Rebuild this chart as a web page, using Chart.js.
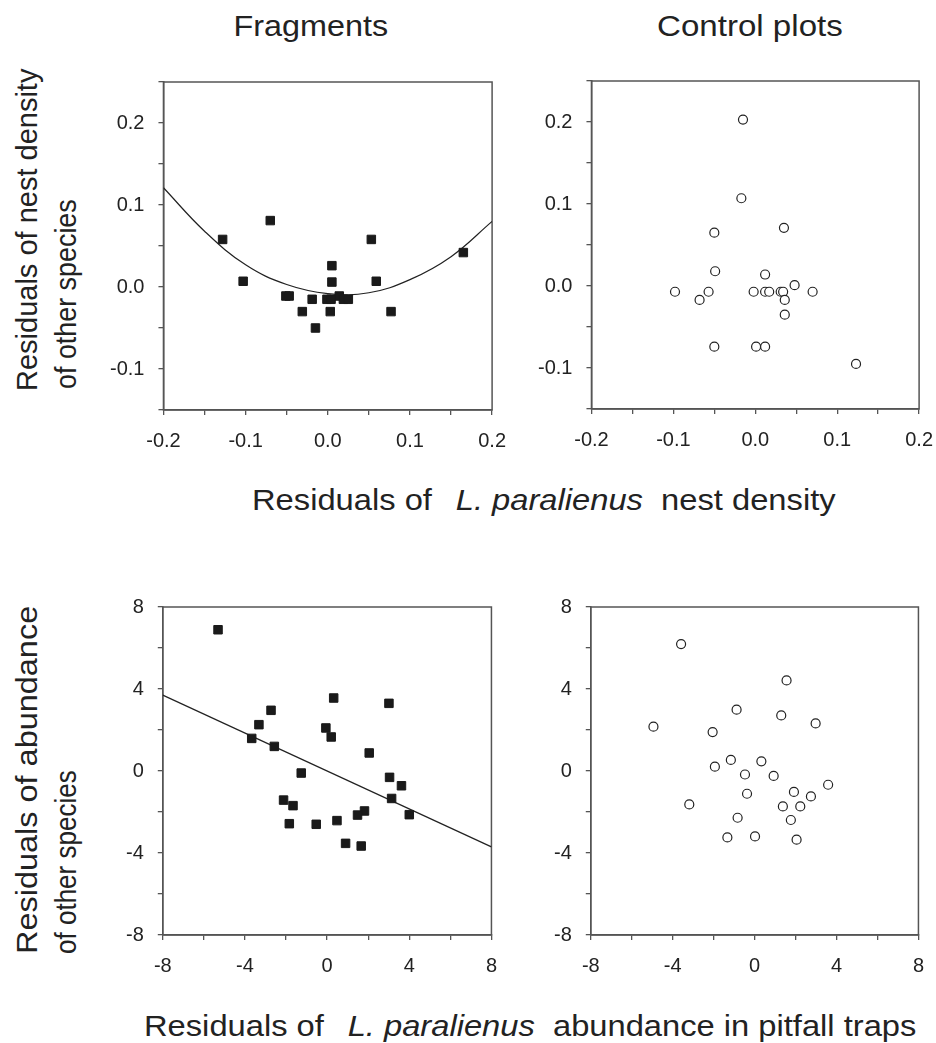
<!DOCTYPE html>
<html>
<head>
<meta charset="utf-8">
<script src="https://cdn.jsdelivr.net/npm/chart.js@4.4.0/dist/chart.umd.min.js"></script>
<style>
body { margin: 0; background: #fff; width: 936px; height: 1043px; overflow: hidden; position: relative;
       font-family: "Liberation Sans", Arial, sans-serif; color: #222; }
canvas { position: absolute; }
.t { position: absolute; left: 0; top: 0; font-size: 29px; line-height: 29px; white-space: pre; transform-origin: 0 0; }
.t i { margin-left: 5px; }
</style>
</head>
<body>
<div class="t" id="tFrag">Fragments</div>
<div class="t" id="tCtrl">Control plots</div>
<div class="t" id="tNestX">Residuals of  <i>L. paralienus</i>  nest density</div>
<div class="t" id="tAbunX">Residuals of  <i>L. paralienus</i>  abundance in pitfall traps</div>
<div class="t" id="tNestY1">Residuals of nest density</div>
<div class="t" id="tNestY2">of other species</div>
<div class="t" id="tAbunY1">Residuals of abundance</div>
<div class="t" id="tAbunY2">of other species</div>

<canvas id="c1" width="420" height="400"></canvas>
<canvas id="c2" width="420" height="400"></canvas>
<canvas id="c3" width="420" height="400"></canvas>
<canvas id="c4" width="420" height="400"></canvas>

<script>
// nest density residuals, fragments (squares)
var fragNestX = [-0.128, -0.070, -0.103, -0.051, -0.047, -0.019, -0.031, -0.015, 0.005, 0.005,
                 -0.001, 0.004, 0.003, 0.014, 0.019, 0.025, 0.053, 0.059, 0.077, 0.165]
var fragNestY = [0.058, 0.081, 0.007, -0.011, -0.011, -0.015, -0.030, -0.050, 0.026, 0.006,
                 -0.015, -0.015, -0.030, -0.011, -0.015, -0.015, 0.058, 0.007, -0.030, 0.042]
// fitted quadratic, read at 0.05 steps
var fragCurveX = [-0.2, -0.15, -0.1, -0.05, 0.0, 0.05, 0.1, 0.15, 0.2]
var fragCurveY = [0.121, 0.068, 0.027, 0.003, -0.008, -0.007, 0.009, 0.037, 0.080]

// nest density residuals, control plots (circles)
var ctrlNestX = [-0.015, -0.017, -0.050, 0.035, -0.049, 0.012, 0.048, -0.098, -0.057, -0.068, -0.002,
                 0.012, 0.017, 0.031, 0.034, 0.036, 0.070, 0.036, -0.050, 0.001, 0.012, 0.123]
var ctrlNestY = [0.203, 0.107, 0.065, 0.071, 0.018, 0.014, 0.001, -0.007, -0.007, -0.017, -0.007,
                 -0.007, -0.007, -0.007, -0.007, -0.017, -0.007, -0.035, -0.074, -0.074, -0.074, -0.095]

// abundance residuals, fragments (squares)
var fragAbunX = [-5.31, 0.32, 3.01, -2.73, -3.32, -3.67, -0.06, 0.20, -2.57, 2.05, -1.26, 3.04,
                 3.62, 3.14, -2.12, -1.66, 1.82, 1.48, 4.00, -1.84, -0.53, 0.48, 0.90, 1.66]
var fragAbunY = [6.89, 3.56, 3.30, 2.96, 2.26, 1.59, 2.10, 1.66, 1.20, 0.88, -0.10, -0.31,
                 -0.72, -1.34, -1.42, -1.69, -1.95, -2.15, -2.13, -2.57, -2.60, -2.42, -3.53, -3.66]
var fragLineX = [-8, 8]
var fragLineY = [3.7, -3.7]

// abundance residuals, control plots (circles)
var ctrlAbunX = [-3.59, 1.56, -0.88, 1.30, 2.98, -4.94, -2.05, -1.16, 0.33, -1.94, -0.47, 0.93,
                 3.59, -0.37, 1.92, 2.75, -3.19, 1.38, 2.23, -0.83, 1.77, -1.33, 0.02, 2.05]
var ctrlAbunY = [6.19, 4.42, 2.99, 2.71, 2.32, 2.16, 1.90, 0.54, 0.47, 0.21, -0.17, -0.24,
                 -0.67, -1.11, -1.02, -1.24, -1.63, -1.73, -1.73, -2.28, -2.39, -3.24, -3.19, -3.35]

var FONT = '"Liberation Sans", Arial, sans-serif'
var INK = '#222'
var AXIS = '#555'

function pts(xs, ys) {
    return xs.map((x, i) => ({x: x, y: ys[i]}))
}

function isMult(v, m) {
    var r = v / m
    return Math.abs(r - Math.round(r)) < 1e-6
}

function axis(min, max, step, every, digits, horizontal) {
    return {
        type: 'linear', min: min, max: max,
        ticks: {
            stepSize: step, autoSkip: false, maxRotation: 0, color: INK,
            padding: horizontal ? 14 : 14,
            font: {size: 20, family: FONT},
            callback: v => isMult(v, every) ? (Math.round(v * 100) / 100).toFixed(digits) : ''
        },
        grid: {drawOnChartArea: false, drawTicks: true, tickLength: 5, color: AXIS, lineWidth: 1.3},
        border: {color: AXIS, width: 1.5}
    }
}

var frame = {
    id: 'frame',
    beforeDatasetsDraw(chart) {
        var a = chart.chartArea, ctx = chart.ctx
        ctx.save()
        ctx.strokeStyle = AXIS
        ctx.lineWidth = 1.5
        ctx.strokeRect(a.left, a.top, a.right - a.left, a.bottom - a.top)
        ctx.restore()
    }
}

var squares = {pointStyle: 'rect', pointRadius: 6, backgroundColor: '#1a1a1a', borderColor: '#1a1a1a', borderWidth: 1}
var circles = {pointStyle: 'circle', pointRadius: 4.5, backgroundColor: '#fff', borderColor: INK, borderWidth: 1.2}

// build the chart, then resize / move the canvas so the plot box lands where it is in the picture
function panel(id, makeSets, makeX, makeY, want) {
    var canvas = document.getElementById(id)
    var config = () => ({
        type: 'scatter',
        data: {datasets: makeSets()},
        options: {
            responsive: false, animation: false,
            layout: {padding: 0},
            plugins: {legend: {display: false}, tooltip: {enabled: false}},
            scales: {x: makeX(), y: makeY()}
        },
        plugins: [frame]
    })
    var chart = new Chart(canvas, config())
    for (var k = 0; k < 3; k++) {
        var a = chart.chartArea
        var L = a.left, T = a.top, R = canvas.width - a.right, B = canvas.height - a.bottom
        var w = Math.round(want.right - want.left + L + R)
        var h = Math.round(want.bottom - want.top + T + B)
        canvas.style.left = (want.left - L) + 'px'
        canvas.style.top = (want.top - T) + 'px'
        if (w === canvas.width && h === canvas.height) break
        chart.destroy()
        canvas.width = w
        canvas.height = h
        chart = new Chart(canvas, config())
    }
}

function fitLine(xs, ys, tension) {
    return {data: pts(xs, ys), showLine: true, borderColor: INK, borderWidth: 1.2, pointRadius: 0, tension: tension, fill: false}
}

var nestAxisX = () => axis(-0.2, 0.2, 0.05, 0.1, 1, true)
var nestAxisY = () => axis(-0.15, 0.25, 0.05, 0.1, 1, false)
var abunAxisX = () => axis(-8, 8, 2, 4, 0, true)
var abunAxisY = () => axis(-8, 8, 2, 4, 0, false)

panel('c1', () => [
    Object.assign({data: pts(fragNestX, fragNestY)}, squares),
    fitLine(fragCurveX, fragCurveY, 0.4)
], nestAxisX, nestAxisY, {left: 163, top: 82, right: 492, bottom: 410})

panel('c2', () => [
    Object.assign({data: pts(ctrlNestX, ctrlNestY)}, circles)
], nestAxisX, nestAxisY, {left: 591, top: 81, right: 919, bottom: 409})

panel('c3', () => [
    Object.assign({data: pts(fragAbunX, fragAbunY)}, squares),
    fitLine(fragLineX, fragLineY, 0)
], abunAxisX, abunAxisY, {left: 163, top: 607, right: 492, bottom: 935})

panel('c4', () => [
    Object.assign({data: pts(ctrlAbunX, ctrlAbunY)}, circles)
], abunAxisX, abunAxisY, {left: 591, top: 607, right: 919, bottom: 935})

// titles: stretch each to the width it has in the picture
function flat(id, cx, top, w) {
    var el = document.getElementById(id)
    var s = w / el.offsetWidth
    el.style.transform = 'translate(' + (cx - w / 2) + 'px,' + top + 'px) scaleX(' + s + ')'
}

function upright(id, left, bottom, len) {
    var el = document.getElementById(id)
    var s = len / el.offsetWidth
    el.style.transform = 'translate(' + left + 'px,' + bottom + 'px) rotate(-90deg) scaleX(' + s + ')'
}

flat('tFrag', 311, 11.5, 155)
flat('tCtrl', 750, 11.5, 186)
flat('tNestX', 544, 485.5, 584)
flat('tAbunX', 530, 1012, 772)
upright('tNestY1', 12.5, 391, 322)
upright('tNestY2', 51.5, 389, 190)
upright('tAbunY1', 12.5, 954, 348)
upright('tAbunY2', 51.5, 954, 184)
</script>
</body>
</html>
